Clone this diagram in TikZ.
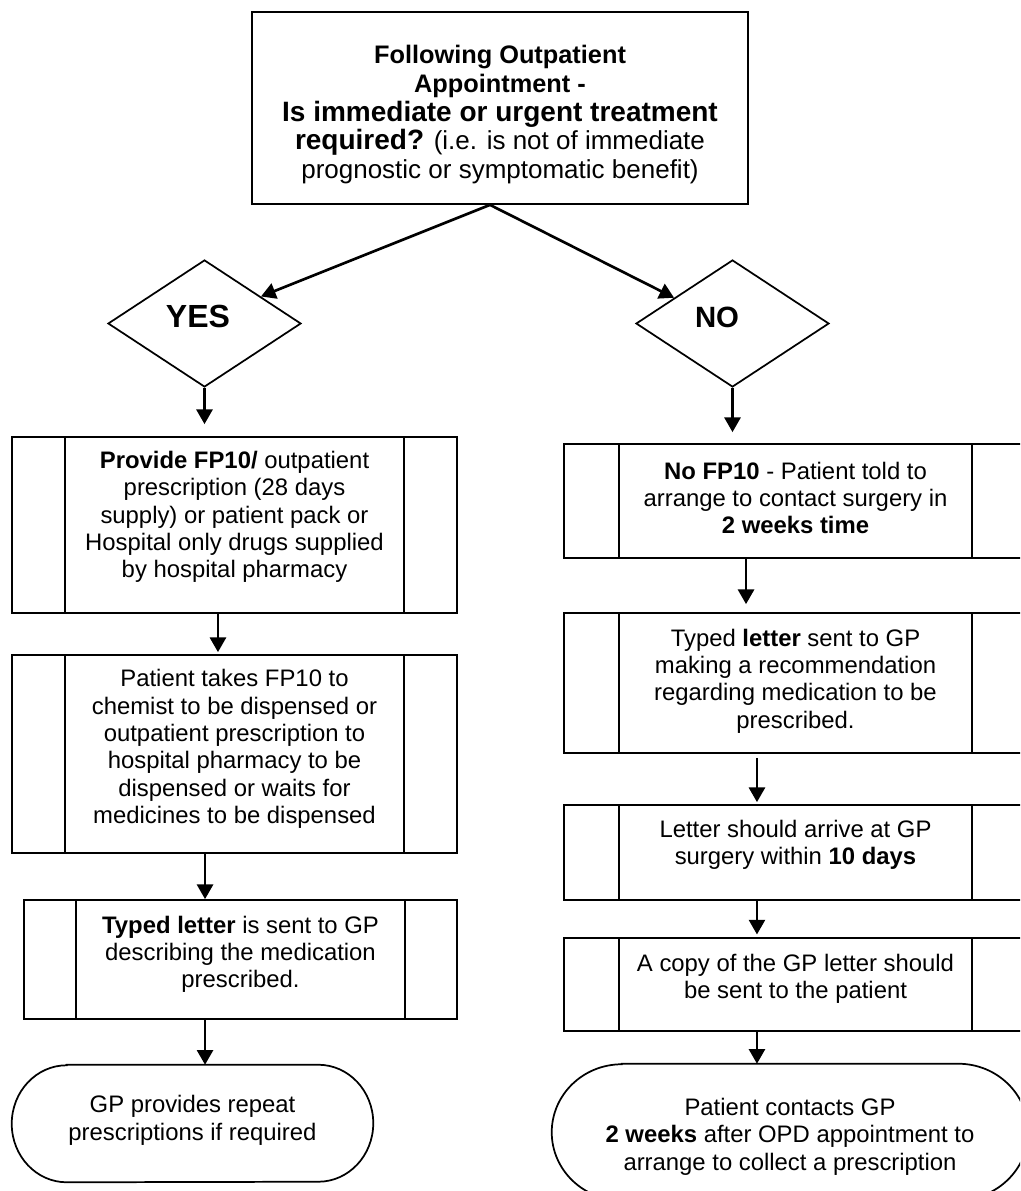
\documentclass[tikz,border=0pt]{standalone}
\usepackage{fontspec}
\setmainfont{Liberation Sans}
\usetikzlibrary{shapes.geometric,arrows.meta,calc}
\begin{document}
\begin{tikzpicture}[x=0.75pt,y=-0.75pt,
  txt/.style={font=\fontsize{17.9}{20.5}\selectfont, align=center, inner sep=0pt},
  toptxt/.style={font=\fontsize{19.5}{21.6}\selectfont, align=center, inner sep=0pt},
  lbl/.style={txt, yshift=#1},
  pbox/.style 2 args={draw, line width=1.3pt, minimum width=#1, minimum height=#2, inner sep=0pt},
  bars/.style={append after command={
     ([xshift=#1]\tikzlastnode.north west) edge[line width=1.1pt] ([xshift=#1]\tikzlastnode.south west)
     ([xshift=-#1]\tikzlastnode.north east) edge[line width=1.1pt] ([xshift=-#1]\tikzlastnode.south east)}},
  dia/.style={draw, diamond, line width=1.3pt, minimum width=144.75pt, minimum height=95.25pt, inner sep=0pt},
  term/.style 2 args={minimum width=#1, minimum height=#2, inner sep=0pt},
  termline/.style={line width=1.3pt},
  arr/.style={line width=2pt, -{Triangle[length=11pt,width=12pt]}},
  dlbl/.style={font=\bfseries\fontsize{24}{24}\selectfont, inner sep=0pt},
]
\useasboundingbox (0,0) rectangle (1020,1191);
\clip (0,0) rectangle (1020,1191);

% top question
\node[pbox={372pt}{144pt},
  label={[toptxt, yshift=-5pt]center:{\textbf{\fontsize{19}{21.6}\selectfont Following Outpatient}\\ \textbf{\fontsize{19}{21.6}\selectfont Appointment -}\\ \textbf{\fontsize{21}{21.6}\selectfont Is immediate or urgent treatment}\\ \textbf{\fontsize{21}{21.6}\selectfont required?} (i.e. is not of immediate\\ prognostic or symptomatic benefit)}}]
  (top) at (500,108) {};

% decisions
\node[dia, label={[dlbl, xshift=-4.9pt, yshift=4.9pt]center:YES}] (yes) at (204.5,323.5) {};
\node[dia, label={[dlbl, font=\bfseries\fontsize{22}{22}\selectfont, xshift=-11.6pt, yshift=4.9pt]center:NO}] (no) at (732.5,323.5) {};

% left column
\node[pbox={333.75pt}{132pt}, bars=40.5pt,
  label={[lbl=6pt]center:{\textbf{Provide FP10/} outpatient\\ prescription (28 days\\ supply) or patient pack or\\ Hospital only drugs supplied\\ by hospital pharmacy}}]
  (b1) at (234.5,525) {};
\node[pbox={333.75pt}{148.5pt}, bars=40.5pt,
  label={[lbl=3.75pt]center:{Patient takes FP10 to\\ chemist to be dispensed or\\ outpatient prescription to\\ hospital pharmacy to be\\ dispensed or waits for\\ medicines to be dispensed}}]
  (b2) at (234.5,754) {};
\node[pbox={324.75pt}{89.25pt}, bars=39.75pt,
  label={[lbl=4pt]center:{\textbf{Typed letter} is sent to GP\\ describing the medication\\ prescribed.}}]
  (b3) at (240.5,959.5) {};
\node[term={270.75pt}{87.75pt},
  label={[lbl=2.5pt]center:{GP provides repeat\\ prescriptions if required}}]
  (tL) at (192.5,1123.5) {};
\draw[termline] ([xshift=41.25pt]tL.north west) -- ([xshift=-41.25pt]tL.north east)
  arc[start angle=90, end angle=-90, x radius=41.25pt, y radius=43.875pt]
  -- ([xshift=41.25pt]tL.south west)
  arc[start angle=270, end angle=90, x radius=41.25pt, y radius=43.875pt] -- cycle;

% right column
\node[pbox={347.25pt}{85.5pt}, bars=42pt,
  label={[lbl=2.25pt]center:{\textbf{No FP10} - Patient told to\\ arrange to contact surgery in\\ \textbf{2 weeks time}}}]
  (r1) at (795.5,501) {};
\node[pbox={347.25pt}{105pt}, bars=42pt,
  label={[lbl=1.5pt]center:{Typed \textbf{letter} sent to GP\\ making a recommendation\\ regarding medication to be\\ prescribed.}}]
  (r2) at (795.5,683) {};
\node[pbox={347.25pt}{71.25pt}, bars=42pt,
  label={[lbl=5.6pt]center:{Letter should arrive at GP\\ surgery within \textbf{10 days}}}]
  (r3) at (795.5,852.5) {};
\node[pbox={347.25pt}{69.75pt}, bars=42pt,
  label={[lbl=4.5pt]center:{A copy of the GP letter should\\ be sent to the patient}}]
  (r4) at (795.5,984.5) {};
\node[term={357pt}{102pt},
  label={[lbl=-3.5pt]center:{Patient contacts GP\\ \textbf{2 weeks} after OPD appointment to\\ arrange to collect a prescription}}]
  (tR) at (790,1132) {};
\draw[termline] ([xshift=52.5pt]tR.north west) -- ([xshift=-52.5pt]tR.north east)
  arc[start angle=90, end angle=-90, x radius=52.5pt, y radius=51pt]
  -- ([xshift=52.5pt]tR.south west)
  arc[start angle=270, end angle=90, x radius=52.5pt, y radius=51pt] -- cycle;

% connectors
\draw[arr] ([xshift=-7.5pt]top.south) -- ($(yes.north)!0.58!(yes.east)$);
\draw[arr] ([xshift=-7.5pt]top.south) -- ($(no.north)!0.6!(no.west)$);
\draw[arr, shorten >=9pt] (yes.south) -- (yes.south |- b1.north);
\draw[arr, shorten >=1.5pt] ([xshift=-12.4pt]b1.south) -- ([xshift=-12.4pt]b1.south |- b2.north);
\draw[arr] ([xshift=-22.1pt]b2.south) -- ([xshift=-22.1pt]b2.south |- b3.north);
\draw[arr] ([xshift=-26.6pt]b3.south) -- ([xshift=-26.6pt]b3.south |- tL.north);
\draw[arr, shorten >=8.25pt] (no.south) -- (no.south |- r1.north);
\draw[arr, shorten >=6pt] ([xshift=-37.1pt]r1.south) -- ([xshift=-37.1pt]r1.south |- r2.north);
\draw[arr, shorten <=3pt, shorten >=1.5pt] ([xshift=-28.9pt]r2.south) -- ([xshift=-28.9pt]r2.south |- r3.north);
\draw[arr, shorten >=2pt] ([xshift=-28.9pt]r3.south) -- ([xshift=-28.9pt]r3.south |- r4.north);
\draw[arr] ([xshift=-28.9pt]r4.south) -- ([xshift=-28.9pt]r4.south |- tR.north);
\end{tikzpicture}
\end{document}
